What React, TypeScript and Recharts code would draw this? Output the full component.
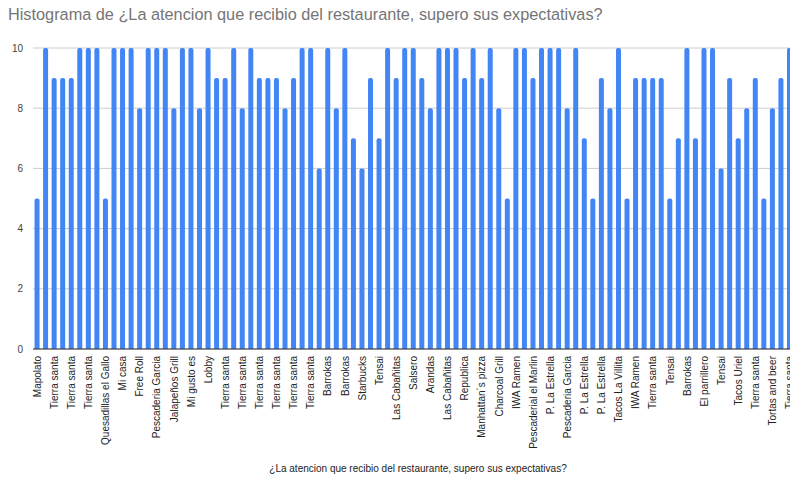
import React from "react";
import { Bar, BarChart, CartesianGrid, XAxis, YAxis } from "recharts";

const title = "Histograma de ¿La atencion que recibio del restaurante, supero sus expectativas?";
const axisTitle = "¿La atencion que recibio del restaurante, supero sus expectativas?";

// one score per answer, in sheet order
const scores = [
  5, 10, 9, 9, 9, 10, 10, 10, 5, 10,
  10, 10, 8, 10, 10, 10, 8, 10, 10, 8,
  10, 9, 9, 10, 8, 10, 9, 9, 9, 8,
  9, 10, 10, 6, 10, 8, 10, 7, 6, 9,
  7, 10, 9, 10, 10, 9, 8, 10, 10, 10,
  9, 10, 9, 10, 8, 5, 10, 10, 9, 10,
  10, 10, 8, 10, 7, 5, 9, 8, 10, 5,
  9, 9, 9, 9, 5, 7, 10, 7, 10, 10,
  6, 9, 7, 8, 9, 5, 8, 9, 10,
];

// restaurant names shown under every other bar
const shownNames = [
  "Mapolato", "Tierra santa", "Tierra santa", "Tierra santa", "Quesadillas el Gallo",
  "Mi casa", "Free Roll", "Pescaderia Garcia", "Jalapeños Grill", "Mi gusto es",
  "Lobby", "Tierra santa", "Tierra santa", "Tierra santa", "Tierra santa",
  "Tierra santa", "Tierra santa", "Barrokas", "Barrokas", "Starbucks",
  "Tensai", "Las Cabañitas", "Salsero", "Arandas", "Las Cabañitas",
  "Republica", "Manhattan´s pizza", "Charcoal Grill", "IWA Ramen", "Pescaderial el Marlin",
  "P. La Estrella", "Pescaderia Garcia", "P. La Estrella", "P. La Estrella", "Tacos La Villita",
  "IWA Ramen", "Tierra santa", "Tensai", "Barrokas", "El parrillero",
  "Tensai", "Tacos Uriel", "Tierra santa", "Tortas and beer", "Tierra santa",
];

const yTicks = [0, 2, 4, 6, 8, 10];

const data = scores.map((value, i) => ({
  name: i % 2 === 0 ? shownNames[i / 2] : "",
  value,
}));

const FONT = "'Liberation Sans', Arial, sans-serif";

function NameTick(props: any) {
  const { x, y, payload } = props;
  return (
    <g transform={`translate(${x},${y})`}>
      <text
        transform="rotate(-90)"
        x={1}
        y={0}
        dy="0.35em"
        textAnchor="end"
        fontSize={10}
        fontFamily={FONT}
        fill="#222"
      >
        {payload.value}
      </text>
    </g>
  );
}

export default function App() {
  return (
    <div
      style={{
        position: "absolute",
        left: 0,
        top: 0,
        width: 790,
        height: 481,
        overflow: "hidden",
        background: "#fff",
        fontFamily: FONT,
      }}
    >
      <div
        style={{
          position: "absolute",
          left: 8,
          top: 6,
          fontSize: 16.3,
          lineHeight: "16px",
          color: "#757575",
          whiteSpace: "nowrap",
        }}
      >
        {title}
      </div>
      <div style={{ position: "absolute", left: 0, top: 0 }}>
        <BarChart
          width={800}
          height={481}
          data={data}
          margin={{ top: 48, right: 6, bottom: 32, left: 0 }}
          barCategoryGap="18%"
        >
          <CartesianGrid vertical={false} stroke="#cccccc" />
          <XAxis
            dataKey="name"
            interval={1}
            height={100}
            tick={<NameTick />}
            tickLine={false}
            tickSize={6}
            axisLine={{ stroke: "#333" }}
          />
          <YAxis
            domain={[0, 10]}
            ticks={yTicks}
            width={33}
            axisLine={false}
            tickLine={false}
            tickMargin={4}
            tick={{ fontSize: 10, fill: "#444", fontFamily: FONT }}
          />
          <Bar dataKey="value" fill="#4285f4" radius={[2, 2, 0, 0]} isAnimationActive={false} />
        </BarChart>
      </div>
      <div
        style={{
          position: "absolute",
          left: 0,
          width: 836,
          top: 463,
          textAlign: "center",
          fontSize: 10,
          lineHeight: "12px",
          color: "#222",
          whiteSpace: "nowrap",
        }}
      >
        {axisTitle}
      </div>
    </div>
  );
}
